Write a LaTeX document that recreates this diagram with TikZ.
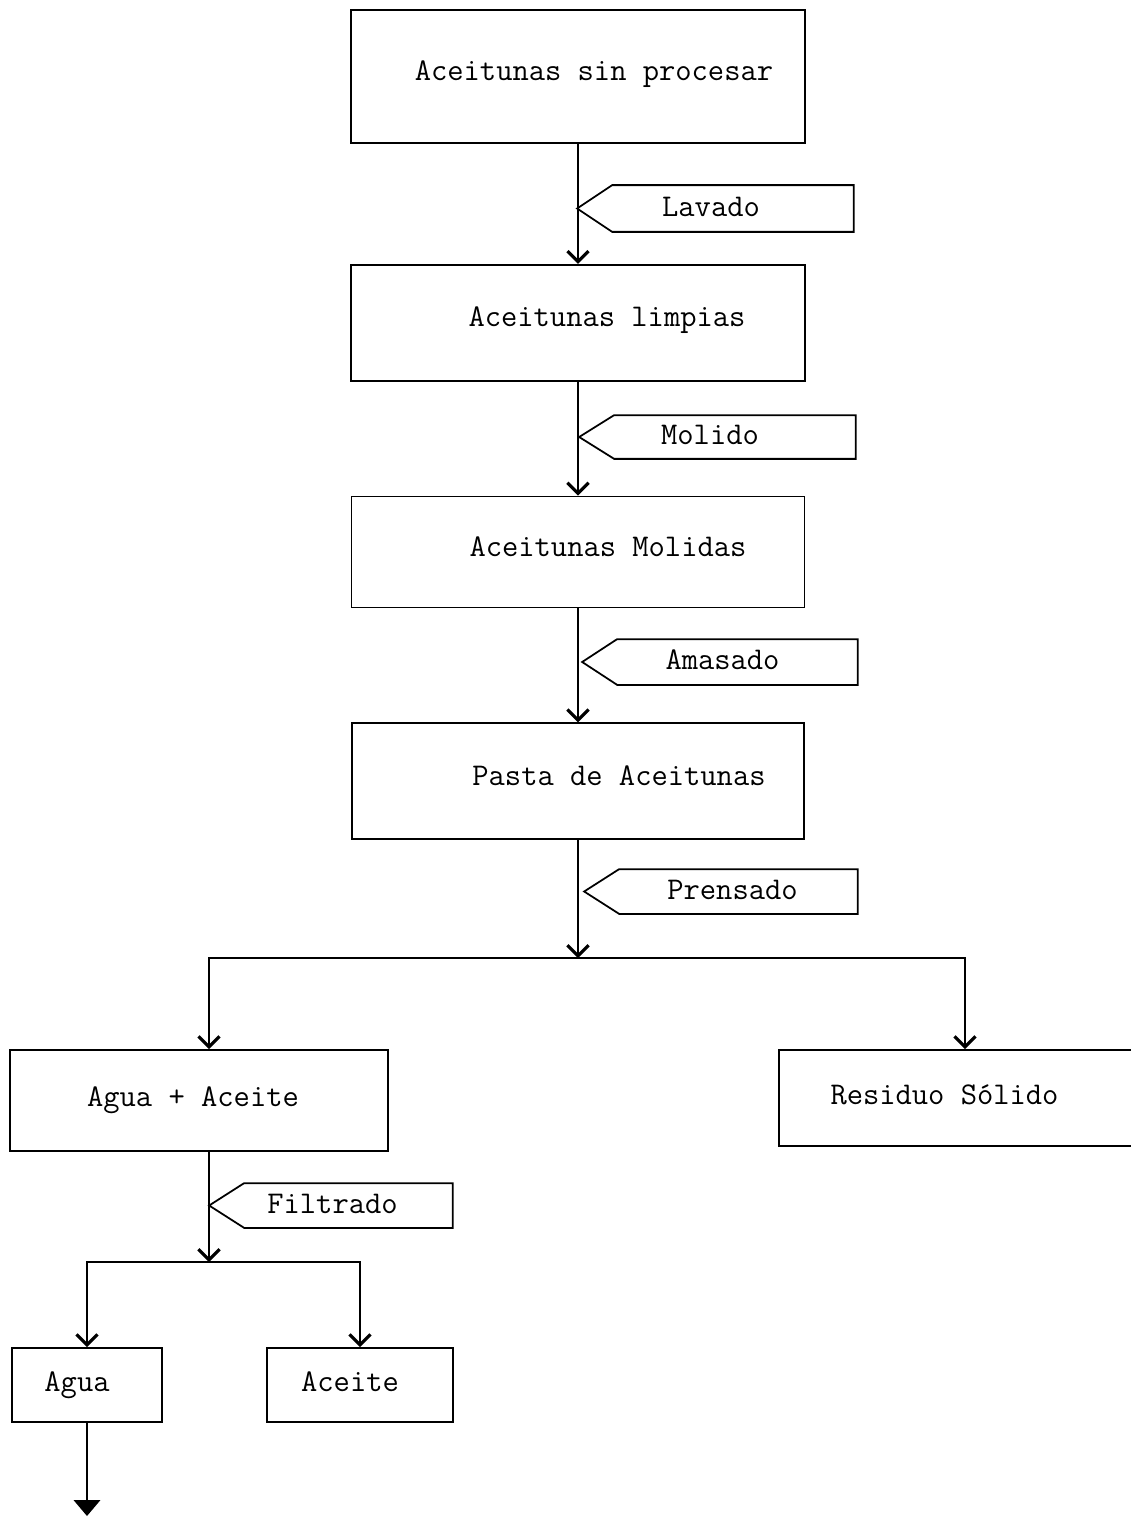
\documentclass[tikz,border=0pt]{standalone}
\usepackage{fontspec}
\usetikzlibrary{positioning,arrows.meta}

\begin{document}
\begin{tikzpicture}[x=0.02cm, y=-0.02cm, line width=1pt,
                    font=\ttfamily\fontsize{18}{21}\selectfont,
                    box/.style={draw, rectangle, inner sep=0pt, text height=0.7em, text depth=0.22em},
                    lowbox/.style={box, text height=0.8em, text depth=0.1em},
                    tagbox/.style={rectangle, inner sep=0pt, text height=0.9em, text depth=0em},
                    push/.style={execute at begin node={\hspace*{#1}}},
                    pull/.style={execute at end node={\hspace*{#1}}},
                    flow/.style={-{Straight Barb[length=6pt,width=12pt,line width=1.8pt]}}]
                        \useasboundingbox (0,0) rectangle (1131,1517);

                        \node [box, push=0.64cm, minimum width=9.08cm, minimum height=2.66cm] (b1) at (578,76.5) {Aceitunas sin procesar};
                        \node [box, push=1.16cm, minimum width=9.08cm, minimum height=2.32cm] [below=2.4cm of b1] (b2) {Aceitunas limpias};
                        \node [box, push=1.2cm, minimum width=9.06cm, minimum height=2.22cm] [below=2.28cm of b2] (b3) {Aceitunas Molidas};
                        \node [box, push=1.64cm, minimum width=9.04cm, minimum height=2.32cm] [below=2.28cm of b3] (b4) {Pasta de Aceitunas};
                        \node [lowbox, pull=0.24cm, minimum width=7.56cm, minimum height=2.02cm] (agac) at (199,1100.5) {Agua + Aceite};
                        \node [lowbox, pull=0.6cm, minimum width=7.22cm, minimum height=1.92cm] (res) at (959.5,1098) {Residuo Sólido};
                        \node [lowbox, pull=0.4cm, minimum width=3.0cm, minimum height=1.48cm] (agua) at (87,1385) {Agua};
                        \node [lowbox, pull=0.4cm, minimum width=3.72cm, minimum height=1.48cm] (acei) at (360,1385) {Aceite};

                        % etiquetas de las operaciones
                        \node [tagbox, pull=0.88cm, minimum width=4.8cm, minimum height=0.9cm] (lav) at (733,208.5) {Lavado};
                        \node [tagbox, pull=1.0cm, minimum width=4.8cm, minimum height=0.84cm] (mol) at (735,437) {Molido};
                        \node [tagbox, pull=0.6cm, minimum width=4.78cm, minimum height=0.88cm] (ama) at (737.5,662) {Amasado};
                        \node [tagbox, pull=0.24cm, minimum width=4.74cm, minimum height=0.86cm] (pre) at (738.5,891.5) {Prensado};
                        \node [tagbox, pull=0.64cm, minimum width=4.14cm, minimum height=0.86cm] (fil) at (348.5,1205.5) {Filtrado};
                        \foreach \t in {lav,mol,ama,pre,fil}
                          \draw (\t.north east) -- (\t.south east) -- (\t.south west)
                                -- ([xshift=-0.7cm]\t.west) -- (\t.north west) -- cycle;

                        \coordinate (split1) at (578,958);
                        \coordinate (split2) at (209,1262);
                        \coordinate (out) at (87,1516);

                        \path[flow]
                        (b1) edge (b2)
                        (b2) edge (b3)
                        (b3) edge (b4);
                        \draw[flow] (b4) -- (split1);
                        \draw[flow] (split1) -| ([xshift=0.2cm]agac.north);
                        \draw[flow] (split1) -| ([xshift=0.11cm]res.north);
                        \draw[flow] ([xshift=0.2cm]agac.south) -- (split2);
                        \draw[flow] (split2) -| (agua.north);
                        \draw[flow] (split2) -| (acei.north);
                        \draw[-{Triangle[length=9pt,width=15pt]}] (agua) -- (out);
                    \end{tikzpicture}
\end{document}
